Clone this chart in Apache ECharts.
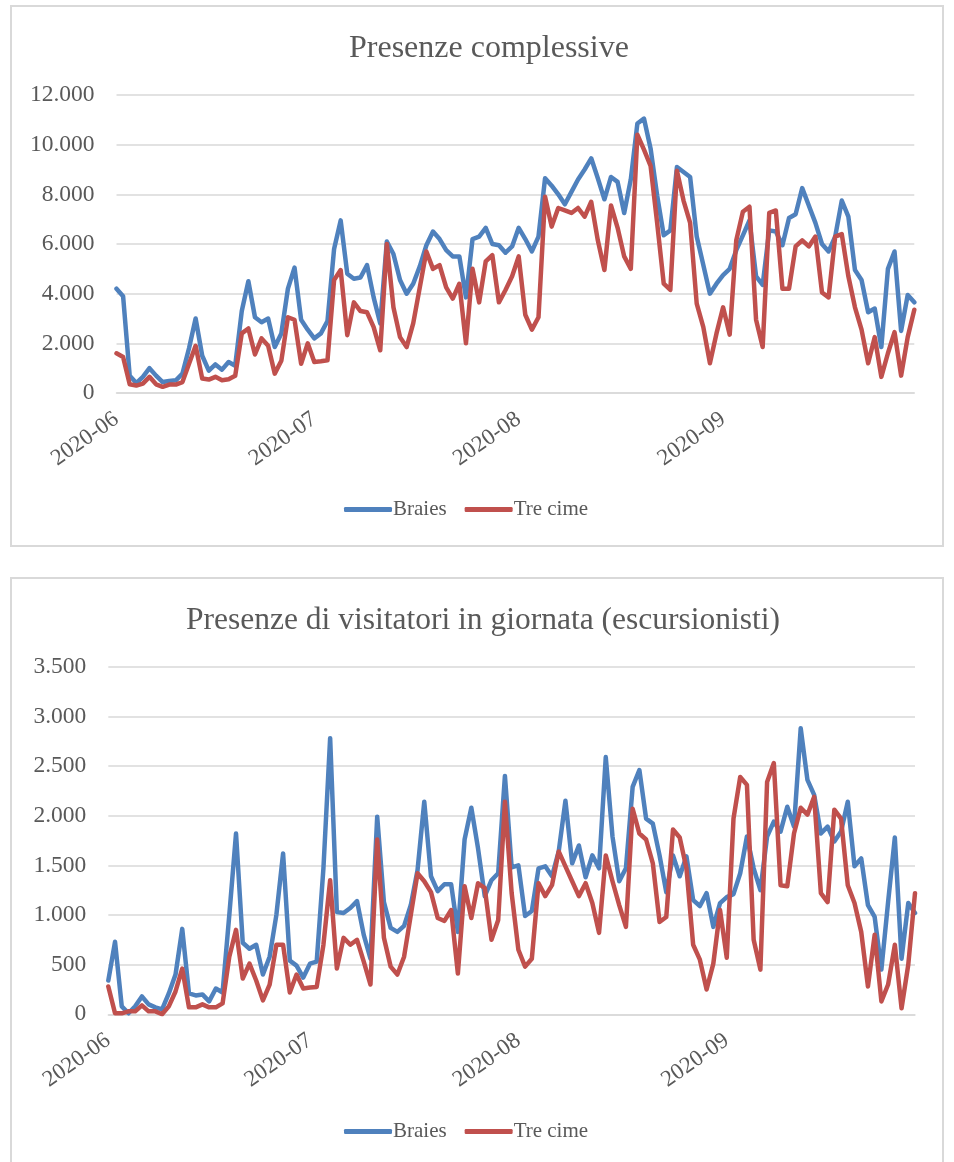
<!DOCTYPE html>
<html>
<head>
    <meta charset="UTF-8">
    <title>Presenze</title>
    <script src="https://cdn.jsdelivr.net/npm/echarts@6/dist/echarts.min.js"></script>
    <style type="text/css">
        html, body {
            margin: 0px;
            padding: 0px;
            background: #ffffff;
        }
        #chart {
            width: 954px;
            height: 1162px;
        }
    </style>
</head>
<body>
    <div id="chart"></div>
    <script>
        // presenze complessive, giorno per giorno dal 2020-06-01 al 2020-09-30
        var totBraies = [4200, 3900, 700, 400, 650, 1000, 700, 440, 480, 510,
            780, 1800, 3000, 1500, 900, 1150, 940, 1250, 1100, 3300,
            4500, 3050, 2850, 3000, 1850, 2400, 4200, 5050, 2950, 2550,
            2200, 2400, 2900, 5800, 6950, 4800, 4600, 4650, 5150, 3850,
            2800, 6100, 5600, 4550, 4000, 4400, 5100, 5950, 6500, 6200,
            5750, 5500, 5500, 3850, 6200, 6300, 6650, 6000, 5950, 5650,
            5900, 6650, 6200, 5700, 6300, 8650, 8350, 8000, 7600, 8100,
            8600, 9000, 9450, 8650, 7800, 8700, 8500, 7250, 8600, 10850,
            11050, 9850, 7950, 6350, 6550, 9100, 8900, 8700, 6300, 5150,
            4000, 4400, 4750, 5000, 5750, 6350, 6950, 4700, 4350, 6550,
            6500, 5950, 7050, 7200, 8250, 7550, 6850, 6000, 5700, 6300,
            7750, 7100, 4950, 4550, 3250, 3400, 1850, 5000, 5700, 2500,
            3950, 3650];
        var totTreCime = [1600, 1450, 350, 300, 380, 650, 350, 250, 340, 340,
            440, 1180, 1900, 580, 540, 650, 510, 550, 690, 2400,
            2600, 1550, 2200, 1900, 780, 1300, 3050, 2950, 1180, 2000,
            1250, 1280, 1320, 4550, 4950, 2330, 3650, 3300, 3250, 2650,
            1720, 6000, 3450, 2250, 1850, 2800, 4250, 5700, 5000, 5150,
            4250, 3800, 4400, 2000, 5000, 3650, 5300, 5550, 3650, 4150,
            4700, 5500, 3150, 2550, 3050, 7900, 6700, 7450, 7350, 7250,
            7450, 7100, 7700, 6150, 4950, 7550, 6650, 5500, 5000, 10400,
            9800, 9150, 6850, 4400, 4150, 8950, 7750, 6850, 3600, 2650,
            1200, 2400, 3450, 2350, 6150, 7300, 7500, 2950, 1850, 7250,
            7350, 4200, 4200, 5900, 6150, 5900, 6300, 4050, 3850, 6300,
            6400, 4700, 3450, 2550, 1200, 2250, 650, 1600, 2450, 700,
            2250, 3350];

        // visitatori in giornata, dal 2020-06-01 al 2020-09-29
        var escBraies = [340, 730, 80, 10, 80, 180, 100, 70, 50, 210,
            400, 860, 210, 190, 200, 130, 260, 220, 1000, 1820,
            720, 660, 700, 400, 580, 1000, 1620, 540, 490, 370,
            510, 530, 1470, 2780, 1030, 1020, 1070, 1140, 800, 560,
            1990, 1130, 870, 830, 890, 1100, 1450, 2140, 1390, 1240,
            1310, 1310, 830, 1760, 2080, 1670, 1190, 1350, 1420, 2400,
            1480, 1500, 990, 1040, 1470, 1490, 1390, 1640, 2150, 1520,
            1700, 1380, 1600, 1470, 2590, 1790, 1340, 1470, 2290, 2460,
            1970, 1920, 1600, 1230, 1600, 1390, 1590, 1150, 1090, 1220,
            880, 1120, 1180, 1210, 1420, 1790, 1470, 1250, 1790, 1940,
            1840, 2090, 1890, 2880, 2360, 2210, 1820, 1890, 1740, 1840,
            2140, 1490, 1570, 1100, 980, 450, 1130, 1780, 560, 1120,
            1020];
        var escTreCime = [280, 10, 10, 30, 30, 90, 30, 30, 0, 80,
            230, 460, 70, 70, 100, 70, 70, 110, 580, 850,
            360, 510, 340, 140, 300, 700, 700, 220, 400, 260,
            270, 275, 700, 1350, 460, 770, 700, 750, 530, 300,
            1760, 770, 480, 400, 580, 1000, 1420, 1340, 1230, 970,
            940, 1050, 410, 1290, 970, 1320, 1270, 750, 950, 2140,
            1220, 650, 480, 560, 1320, 1190, 1300, 1640, 1490, 1340,
            1190, 1320, 1120, 820, 1600, 1340, 1100, 880, 2070, 1820,
            1760, 1520, 930, 980, 1860, 1780, 1470, 700, 550, 250,
            510, 1050, 570, 1970, 2390, 2310, 750, 450, 2340, 2530,
            1300, 1290, 1820, 2080, 2010, 2190, 1220, 1130, 2060, 1970,
            1300, 1120, 830, 280, 800, 130, 300, 700, 60, 500,
            1220];

        var seriesNames = ['Braies', 'Tre cime'];
        var titles = ['Presenze complessive', 'Presenze di visitatori in giornata (escursionisti)'];
        var colors = ['#4f81bd', '#c0504d'];
        var textColor = '#595959';
        var gridColor = '#d9d9d9';
        var font = 'Liberation Serif';

        function makeDays(n) {
            var out = [];
            var d = new Date(Date.UTC(2020, 5, 1));
            for (var i = 0; i < n; i++) {
                out.push(d.toISOString().slice(0, 10));
                d.setUTCDate(d.getUTCDate() + 1);
            }
            return out;
        }
        var daysTot = makeDays(totBraies.length);
        var daysEsc = makeDays(escBraies.length);

        function thousands(v) {
            return String(v).replace(/\B(?=(\d{3})+(?!\d))/g, '.');
        }

        function xAxisFor(days, gridIndex) {
            return {
                type: 'category',
                gridIndex: gridIndex,
                data: days,
                boundaryGap: false,
                axisLine: { lineStyle: { color: gridColor, width: 1.5 } },
                axisTick: { show: false },
                axisLabel: {
                    rotate: 35,
                    margin: 24,
                    color: textColor,
                    fontFamily: font,
                    fontSize: 23,
                    interval: function (index, value) {
                        return value.slice(8) === '01';
                    },
                    formatter: function (value) {
                        return value.slice(0, 7);
                    }
                }
            };
        }

        function yAxisFor(max, step, gridIndex) {
            return {
                type: 'value',
                gridIndex: gridIndex,
                min: 0,
                max: max,
                interval: step,
                axisLine: { show: false },
                axisTick: { show: false },
                splitLine: { lineStyle: { color: gridColor, width: 1.5 } },
                axisLabel: {
                    margin: 22,
                    color: textColor,
                    fontFamily: font,
                    fontSize: 23.5,
                    formatter: thousands
                }
            };
        }

        function lineSeries(name, values, idx, color) {
            return {
                name: name,
                type: 'line',
                xAxisIndex: idx,
                yAxisIndex: idx,
                data: values,
                showSymbol: false,
                animation: false,
                lineStyle: { color: color, width: 4.5, cap: 'round', join: 'round' },
                itemStyle: { color: color }
            };
        }

        function legendAt(top) {
            return {
                top: top,
                left: 344,
                padding: 0,
                data: seriesNames,
                icon: 'roundRect',
                itemWidth: 48,
                itemHeight: 5,
                itemGap: 18,
                textStyle: { color: textColor, fontFamily: font, fontSize: 21, padding: [0, 0, 0, -4] }
            };
        }

        var chart = echarts.init(document.getElementById('chart'), null, { renderer: 'canvas' });
        chart.setOption({
            backgroundColor: '#ffffff',
            animation: false,
            graphic: [
                { type: 'rect', shape: { x: 11, y: 6, width: 932, height: 540 },
                  style: { fill: 'none', stroke: gridColor, lineWidth: 2 }, z: -1 },
                { type: 'rect', shape: { x: 11, y: 578, width: 932, height: 600 },
                  style: { fill: 'none', stroke: gridColor, lineWidth: 2 }, z: -1 }
            ],
            title: [
                { text: titles[0], left: 344, top: 28,
                  textStyle: { color: textColor, fontFamily: font, fontSize: 32, fontWeight: 'normal' } },
                { text: titles[1], left: 181, top: 600,
                  textStyle: { color: textColor, fontFamily: font, fontSize: 31.5, fontWeight: 'normal' } }
            ],
            legend: [legendAt(499), legendAt(1121)],
            grid: [
                { left: 116.5, right: 39.7, top: 95, height: 298 },
                { left: 108.3, right: 39, top: 666.7, height: 347.6 }
            ],
            xAxis: [xAxisFor(daysTot, 0), xAxisFor(daysEsc, 1)],
            yAxis: [yAxisFor(12000, 2000, 0), yAxisFor(3500, 500, 1)],
            series: [
                lineSeries(seriesNames[0], totBraies, 0, colors[0]),
                lineSeries(seriesNames[1], totTreCime, 0, colors[1]),
                lineSeries(seriesNames[0], escBraies, 1, colors[0]),
                lineSeries(seriesNames[1], escTreCime, 1, colors[1])
            ]
        });
    </script>
</body>
</html>
